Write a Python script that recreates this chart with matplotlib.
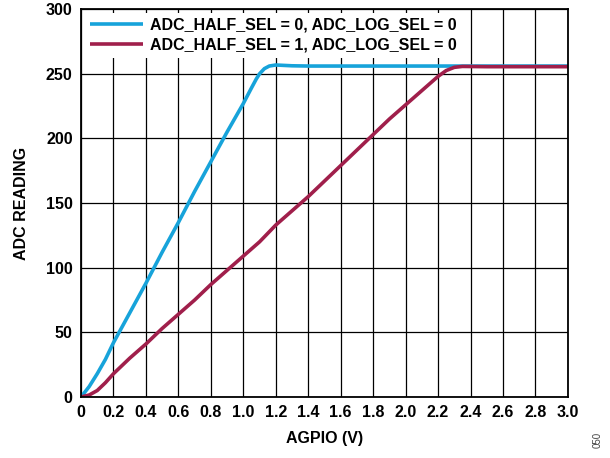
import matplotlib
matplotlib.use("Agg")
import matplotlib.pyplot as plt

# Data
blue_x = [0, 0.05, 0.1, 0.15, 0.2, 0.3, 0.4, 0.5, 0.6, 0.7, 0.8, 0.9, 1.0, 1.05, 1.08,
          1.1, 1.13, 1.16, 1.2, 1.25, 1.3, 1.4, 1.6, 2.0, 2.5, 3.0]
blue_y = [0, 8, 18, 29, 42, 65, 88, 112, 135, 159, 182, 205, 227, 239, 246,
          250, 254, 256, 256.8, 256.5, 256.2, 256, 256, 256, 256, 256]

red_x = [0, 0.05, 0.1, 0.15, 0.2, 0.3, 0.4, 0.5, 0.6, 0.7, 0.8, 0.9, 1.0, 1.1, 1.2,
         1.3, 1.4, 1.5, 1.6, 1.7, 1.8, 1.9, 2.0, 2.1, 2.2, 2.25, 2.3, 2.35, 2.5, 3.0]
red_y = [0, 1.5, 5, 11, 18, 30, 41, 53, 64, 75, 87, 98, 109, 120, 133,
         144, 155, 167, 179, 191, 203, 215, 226, 237, 248, 252.5, 255, 255.7, 255.5, 255.5]

series_labels = ["ADC_HALF_SEL = 0, ADC_LOG_SEL = 0",
                 "ADC_HALF_SEL = 1, ADC_LOG_SEL = 0"]
x_ticks = [0, 0.2, 0.4, 0.6, 0.8, 1.0, 1.2, 1.4, 1.6, 1.8, 2.0, 2.2, 2.4, 2.6, 2.8, 3.0]
x_tick_labels = ["0", "0.2", "0.4", "0.6", "0.8", "1.0", "1.2", "1.4", "1.6", "1.8",
                 "2.0", "2.2", "2.4", "2.6", "2.8", "3.0"]
y_ticks = [0, 50, 100, 150, 200, 250, 300]
x_label = "AGPIO (V)"
y_label = "ADC READING"
fig_code = "050"

plt.rcParams['font.family'] = ['Liberation Sans', 'DejaVu Sans']
FS = 11.5

fig = plt.figure(figsize=(6.10, 4.58), dpi=100)
ax = fig.add_axes([0.1328, 0.1332, 0.931 - 0.1328, 0.980 - 0.1332])

ax.plot(blue_x, blue_y, color='#17A3DA', lw=2.6, label=series_labels[0], zorder=3,
        solid_joinstyle='round', solid_capstyle='butt')
ax.plot(red_x, red_y, color='#A01F4B', lw=2.6, label=series_labels[1], zorder=3,
        solid_joinstyle='round', solid_capstyle='butt')

ax.set_xlim(0, 3.0)
ax.set_ylim(0, 300)
ax.set_xticks(x_ticks)
ax.set_xticklabels(x_tick_labels)
ax.set_yticks(y_ticks)
ax.tick_params(length=0, pad=6, labelsize=FS)
for lab in ax.get_xticklabels() + ax.get_yticklabels():
    lab.set_fontweight('bold')

ax.grid(True, color='black', lw=0.9, zorder=1)
ax.set_axisbelow(True)
for s in ax.spines.values():
    s.set_linewidth(1.3)
    s.set_color('black')
    s.set_zorder(4)

ax.set_xlabel(x_label, fontsize=FS, fontweight='bold', labelpad=8)
ax.set_ylabel(y_label, fontsize=FS, fontweight='bold', labelpad=12)

leg = ax.legend(loc='upper left', frameon=True, fancybox=False, framealpha=1,
                facecolor='white', edgecolor='none',
                prop={'weight': 'bold', 'size': FS},
                handlelength=3.3, handletextpad=0.5, borderaxespad=0.25,
                borderpad=0.3, labelspacing=0.3)
leg.set_zorder(2.5)

fig.text(0.979, 0.04, fig_code, rotation=90, fontsize=7, color='#444444',
         ha='center', va='center')

fig.savefig("out.png", dpi=100)
